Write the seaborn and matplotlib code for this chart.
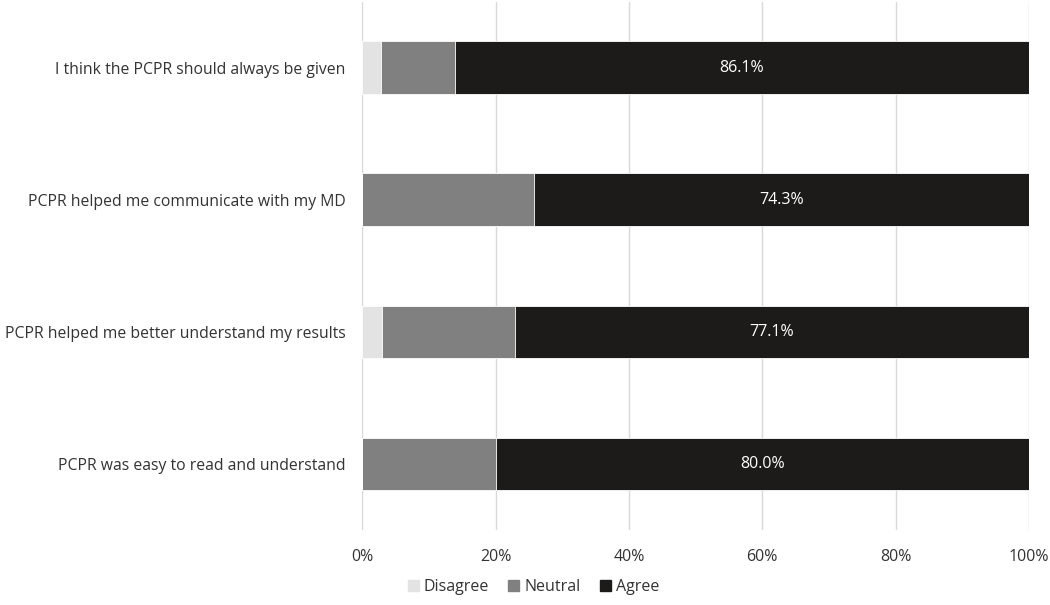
import pandas as pd
import seaborn as sns
import matplotlib.pyplot as plt
from matplotlib.patches import Patch

# survey responses, percent of respondents
statements = [
    "I think the PCPR should always be given",
    "PCPR helped me communicate with my MD",
    "PCPR helped me better understand my results",
    "PCPR was easy to read and understand",
]
disagree = [2.8, 0.0, 2.9, 0.0]
neutral = [11.1, 25.7, 20.0, 20.0]
agree = [86.1, 74.3, 77.1, 80.0]

colors = {"Disagree": "#e3e3e3", "Neutral": "#808080", "Agree": "#1c1b19"}

df = pd.DataFrame({"Statement": statements, "Disagree": disagree,
                   "Neutral": neutral, "Agree": agree})
# cumulative ends so the bars can be drawn on top of each other
df["c_agree"] = df["Disagree"] + df["Neutral"] + df["Agree"]
df["c_neutral"] = df["Disagree"] + df["Neutral"]
df["c_disagree"] = df["Disagree"]

sns.set_theme(style="white")
plt.rcParams["font.family"] = ["Open Sans", "DejaVu Sans"]

fig, ax = plt.subplots(figsize=(10.5, 6.05), dpi=100)
fig.subplots_adjust(left=0.345, right=0.98, top=0.997, bottom=0.124)

for col, name in [("c_agree", "Agree"), ("c_neutral", "Neutral"), ("c_disagree", "Disagree")]:
    sns.barplot(data=df, x=col, y="Statement", color=colors[name], width=0.4,
                orient="h", ax=ax, saturation=1, edgecolor="white", linewidth=0.6,
                zorder=3)

for i, row in df.iterrows():
    mid = row["c_neutral"] + row["Agree"] / 2
    ax.text(mid, i, f"{row['Agree']:.1f}%", color="white", ha="center",
            va="center", fontsize=11.5, zorder=4)

ax.set_xlim(0, 100)
ax.set_xticks([0, 20, 40, 60, 80, 100])
ax.set_xticklabels([f"{t}%" for t in range(0, 101, 20)], fontsize=11.5, color="#333333")
ax.tick_params(axis="y", labelsize=11.3, labelcolor="#333333", length=0, pad=12)
ax.tick_params(axis="x", length=0, pad=14)
ax.set_xlabel("")
ax.set_ylabel("")
ax.xaxis.grid(True, color="#d9d9d9", linewidth=1, zorder=0)
ax.set_axisbelow(True)
sns.despine(ax=ax, left=True, bottom=True)

handles = [Patch(color=colors[k], label=k) for k in ["Disagree", "Neutral", "Agree"]]
fig.legend(handles=handles, loc="lower center", ncol=3, frameon=False,
           bbox_to_anchor=(0.508, -0.008), fontsize=11.5, handlelength=0.7,
           handleheight=0.7, handletextpad=0.3, columnspacing=1.2,
           labelcolor="#333333")

fig.savefig("out.png", dpi=100)
